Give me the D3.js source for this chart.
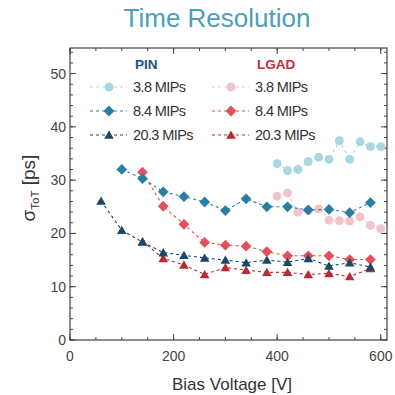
<!DOCTYPE html>
<html>
<head>
<meta charset="utf-8">
<script src="https://cdn.jsdelivr.net/npm/d3@7"></script>
<style>
  body { margin: 0; background: #fff; }
  text { font-family: "Liberation Sans", Arial, sans-serif; }
</style>
</head>
<body>
<div id="chart"></div>
<script>

// data
const pin38V = [400, 420, 440, 460, 480, 500, 520, 540, 560, 580, 600];
const pin38 = [33.1, 31.8, 32.0, 33.5, 34.3, 33.9, 37.4, 33.9, 37.2, 36.3, 36.3];

const pin84V = [100, 140, 180, 220, 260, 300, 340, 380, 420, 460, 500, 540, 580];
const pin84 = [32.0, 30.3, 27.8, 26.9, 25.9, 24.3, 26.5, 25.0, 25.0, 24.4, 24.5, 23.9, 25.8];

const pin203V = [60, 100, 140, 180, 220, 260, 300, 340, 380, 420, 460, 500, 540, 580];
const pin203 = [26.1, 20.6, 18.4, 16.4, 15.9, 15.4, 15.0, 14.5, 15.0, 14.6, 15.3, 13.9, 14.5, 13.7];

const lgad38V = [400, 420, 440, 460, 480, 500, 520, 540, 560, 580, 600];
const lgad38 = [27.0, 27.6, 24.0, 24.3, 24.6, 22.5, 22.4, 22.3, 23.1, 21.5, 20.9];

const lgad84V = [140, 180, 220, 260, 300, 340, 380, 420, 460, 500, 540, 580];
const lgad84 = [31.5, 25.1, 21.7, 18.3, 17.8, 17.6, 16.6, 15.8, 15.8, 15.8, 15.1, 15.1];

const lgad203V = [140, 180, 220, 260, 300, 340, 380, 420, 460, 500, 540, 580];
const lgad203 = [18.5, 15.3, 14.1, 12.3, 13.6, 13.1, 12.7, 12.7, 12.3, 12.5, 11.9, 13.4];

const xTicks = [0, 200, 400, 600];
const yTicks = [0, 10, 20, 30, 40, 50];

const series = [
    { group: "PIN", label: "3.8 MIPs", x: pin38V, y: pin38, color: "#a9d7e1", shape: "circle" },
    { group: "PIN", label: "8.4 MIPs", x: pin84V, y: pin84, color: "#2a7ea2", shape: "diamond" },
    { group: "PIN", label: "20.3 MIPs", x: pin203V, y: pin203, color: "#1a4868", shape: "triangle" },
    { group: "LGAD", label: "3.8 MIPs", x: lgad38V, y: lgad38, color: "#f3c3cb", shape: "circle" },
    { group: "LGAD", label: "8.4 MIPs", x: lgad84V, y: lgad84, color: "#e4505a", shape: "diamond" },
    { group: "LGAD", label: "20.3 MIPs", x: lgad203V, y: lgad203, color: "#b82b36", shape: "triangle" },
];

const dimensions = {
    width: 395,
    height: 395,
    margin: { top: 48, right: 8, bottom: 55, left: 70 },
};
dimensions.boundedWidth = dimensions.width - dimensions.margin.left - dimensions.margin.right;
dimensions.boundedHeight = dimensions.height - dimensions.margin.top - dimensions.margin.bottom;

const svg = d3.select("#chart")
    .append("svg")
    .attr("width", dimensions.width)
    .attr("height", dimensions.height);

const xScale = d3.scaleLinear().domain([0, 612]).range([0, dimensions.boundedWidth]);
const yScale = d3.scaleLinear().domain([0, 54.8]).range([dimensions.boundedHeight, 0]);

const bounds = svg.append("g")
    .attr("transform", `translate(${dimensions.margin.left}, ${dimensions.margin.top})`);

// ticks, inward on all four sides
const axisColor = "#444";
const xMinor = d3.range(0, 613, 50);
const yMinor = d3.range(0, 55, 2);

function tickLines(values, isX, len) {
    values.forEach(v => {
        if (isX) {
            const x = xScale(v);
            bounds.append("line").attr("x1", x).attr("x2", x)
                .attr("y1", dimensions.boundedHeight).attr("y2", dimensions.boundedHeight - len)
                .attr("stroke", axisColor);
            bounds.append("line").attr("x1", x).attr("x2", x)
                .attr("y1", 0).attr("y2", len)
                .attr("stroke", axisColor);
        } else {
            const y = yScale(v);
            bounds.append("line").attr("x1", 0).attr("x2", len)
                .attr("y1", y).attr("y2", y).attr("stroke", axisColor);
            bounds.append("line").attr("x1", dimensions.boundedWidth).attr("x2", dimensions.boundedWidth - len)
                .attr("y1", y).attr("y2", y).attr("stroke", axisColor);
        }
    });
}
tickLines(xMinor, true, 3);
tickLines(xTicks, true, 6);
tickLines(yMinor, false, 3);
tickLines(yTicks, false, 6);

bounds.append("rect")
    .attr("width", dimensions.boundedWidth)
    .attr("height", dimensions.boundedHeight)
    .attr("fill", "none")
    .attr("stroke", axisColor)
    .attr("stroke-width", 1.2);

bounds.selectAll("text.xtick")
    .data(xTicks)
    .join("text")
    .attr("class", "xtick")
    .attr("x", d => xScale(d))
    .attr("y", dimensions.boundedHeight + 21)
    .attr("text-anchor", "middle")
    .style("font-size", "14px")
    .style("fill", "#444")
    .text(d => d);

bounds.selectAll("text.ytick")
    .data(yTicks)
    .join("text")
    .attr("class", "ytick")
    .attr("x", -4)
    .attr("y", d => yScale(d) + 5)
    .attr("text-anchor", "end")
    .style("font-size", "14px")
    .style("fill", "#444")
    .text(d => d);

// symbols (diamond = square turned 45 degrees)
const symbolType = {
    circle: d3.symbolCircle,
    diamond: d3.symbolSquare,
    triangle: d3.symbolTriangle,
};
const symbolSize = { circle: 62, diamond: 58, triangle: 40 };

function symbolPath(shape) {
    return d3.symbol().type(symbolType[shape]).size(symbolSize[shape])();
}
function symbolTransform(shape, x, y) {
    if (shape === "diamond") return `translate(${x}, ${y}) rotate(45)`;
    if (shape === "triangle") return `translate(${x}, ${y + 1})`;
    return `translate(${x}, ${y})`;
}

const line = d3.line()
    .x(d => xScale(d[0]))
    .y(d => yScale(d[1]));

// draw light series first so darker ones sit on top
const drawOrder = [3, 0, 4, 1, 5, 2];
drawOrder.forEach(i => {
    const s = series[i];
    const pts = s.x.map((v, j) => [v, s.y[j]]);
    const g = bounds.append("g");
    g.append("path")
        .datum(pts)
        .attr("d", line)
        .attr("fill", "none")
        .attr("stroke", s.color)
        .attr("stroke-width", 1.1)
        .attr("stroke-dasharray", "3,3");
    g.selectAll("path.pt")
        .data(pts)
        .join("path")
        .attr("class", "pt")
        .attr("transform", d => symbolTransform(s.shape, xScale(d[0]), yScale(d[1])))
        .attr("d", symbolPath(s.shape))
        .attr("fill", s.color);
});

// legend
const legendCols = { PIN: { x: 20, head: "#1f4f7a" }, LGAD: { x: 142, head: "#c0303b" } };
const rowY = [39, 63, 87];

Object.entries(legendCols).forEach(([group, col]) => {
    bounds.append("text")
        .attr("x", col.x + 45)
        .attr("y", 21)
        .style("font-size", "13.5px")
        .style("font-weight", "bold")
        .style("fill", col.head)
        .text(group);

    series.filter(s => s.group === group).forEach((s, k) => {
        const y = rowY[k];
        bounds.append("line")
            .attr("x1", col.x).attr("x2", col.x + 37)
            .attr("y1", y).attr("y2", y)
            .attr("stroke", s.color)
            .attr("stroke-width", 1.1)
            .attr("stroke-dasharray", "3,3");
        bounds.append("path")
            .attr("transform", symbolTransform(s.shape, col.x + 19, y))
            .attr("d", symbolPath(s.shape))
            .attr("fill", s.color);
        bounds.append("text")
            .attr("x", col.x + 43)
            .attr("y", y + 5)
            .style("font-size", "14.5px")
            .style("fill", "#333")
            .style("letter-spacing", "-0.6px")
            .text(s.label);
    });
});

// titles
svg.append("text")
    .attr("x", 217)
    .attr("y", 27)
    .attr("text-anchor", "middle")
    .style("font-size", "26px")
    .style("fill", "#4a9fba")
    .text("Time Resolution");

svg.append("text")
    .attr("x", 232)
    .attr("y", 390)
    .attr("text-anchor", "middle")
    .style("font-size", "17px")
    .style("fill", "#333")
    .text("Bias Voltage [V]");

const yLabel = svg.append("text")
    .attr("transform", `translate(35, 188) rotate(-90)`)
    .attr("text-anchor", "middle")
    .style("font-size", "19px")
    .style("fill", "#333");
yLabel.append("tspan").text("σ");
yLabel.append("tspan").attr("dy", 4).style("font-size", "11.5px").text("ToT");
yLabel.append("tspan").attr("dy", -4).text(" [ps]");

</script>
</body>
</html>
